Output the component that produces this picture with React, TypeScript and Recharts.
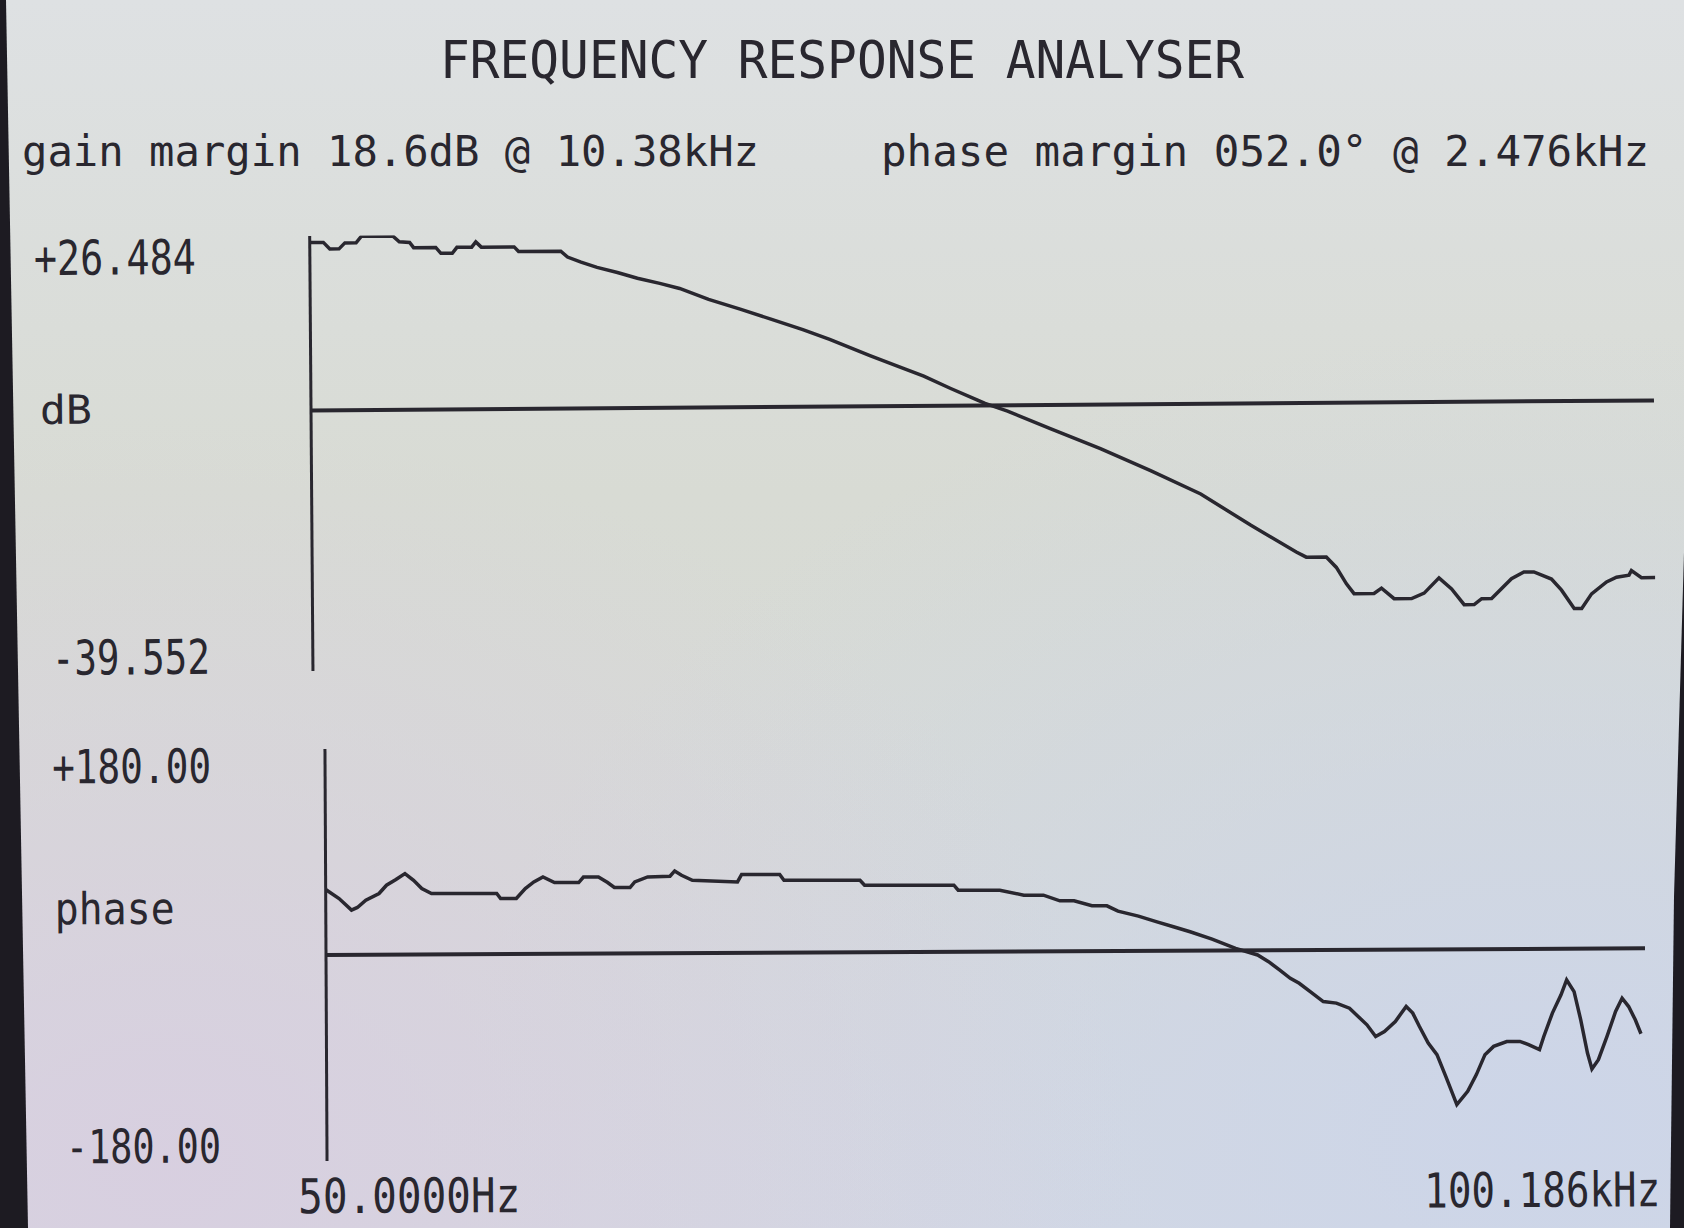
import React from 'react';
import { LineChart, Line, XAxis, YAxis, ReferenceLine } from 'recharts';

// sweep (log frequency axis)
const gainFreqHz = [
  50, 54, 56, 59, 61, 65, 67, 80, 83, 88,
  90, 102, 105, 112, 115, 125, 128, 132, 159, 163,
  207, 215, 232, 254, 285, 319, 362, 405, 477, 570,
  681, 812, 945, 1186, 1380, 1607, 1871, 2177, 2271, 2579,
  3282, 4355, 5780, 7670, 10178, 13140, 13904, 15571, 16478, 17434,
  18193, 20372, 21255, 22822, 25200, 27056, 29446, 31609, 33917, 35894,
  37456, 39634, 44380, 47633, 50402, 55660, 58898, 63222, 65964, 69802,
  76005, 80436, 86328, 87549, 92650, 100186,
];
const gainDb = [
  25.5, 25.5, 24.5, 24.5, 25.4, 25.4, 26.4, 26.4, 25.5, 25.4,
  24.6, 24.6, 23.7, 23.7, 24.6, 24.6, 25.4, 24.6, 24.6, 23.9,
  23.9, 23.0, 22.2, 21.4, 20.6, 19.7, 18.9, 18.1, 16.4, 14.9,
  13.3, 11.7, 10.2, 7.7, 6.1, 4.5, 2.6, 0.8, 0.3, -0.9,
  -3.6, -6.7, -10.1, -13.7, -18.5, -22.6, -23.4, -23.4, -25.0, -27.5,
  -29.0, -29.0, -28.2, -29.8, -29.8, -29.0, -26.7, -28.4, -30.8, -30.8,
  -29.9, -29.9, -26.9, -25.9, -25.9, -27.0, -28.7, -31.5, -31.5, -29.3,
  -27.5, -26.8, -26.5, -25.8, -26.9, -26.9,
];

const phaseFreqHz = [
  50, 54, 58, 60, 63, 68, 71, 75, 79, 83,
  87, 92, 134, 137, 150, 158, 166, 175, 187, 215,
  221, 241, 254, 264, 289, 297, 320, 364, 374, 389,
  414, 537, 550, 685, 702, 1088, 1117, 1869, 1916, 2435,
  2796, 3131, 3441, 3734, 4139, 4512, 4809, 5410, 6020, 6618,
  7284, 8265, 9464, 10740, 11440, 12180, 12960, 13640, 14530, 15660,
  16890, 18210, 19140, 20130, 21160, 22260, 23710, 25250, 26220, 27240,
  28640, 30110, 31660, 33720, 35910, 37770, 39710, 41760, 45050, 48590,
  51070, 54380, 55770, 58640, 61660, 63720, 66490, 69030, 71700, 73540,
  76350, 80280, 84410, 87680, 91030, 94550, 97650,
];
const phaseDeg = [
  57.2, 49.3, 39.1, 41.4, 47.7, 53.5, 60.7, 65.6, 70.8, 64.9,
  57.7, 53.3, 53.0, 48.6, 48.5, 57.2, 62.9, 67.2, 62.3, 62.2,
  67.0, 67.0, 62.1, 57.7, 57.6, 62.5, 66.8, 67.3, 71.9, 68.1,
  63.7, 62.0, 68.5, 68.3, 63.3, 63.0, 58.6, 58.2, 53.8, 53.6,
  49.2, 49.1, 44.1, 44.0, 39.6, 39.5, 34.8, 30.4, 25.3, 20.9,
  16.5, 10.0, 1.8, -4.1, -10.0, -17.3, -24.6, -29.0, -36.3, -45.1,
  -46.5, -51.0, -58.3, -65.6, -75.8, -71.5, -62.8, -49.8, -55.6, -67.3,
  -81.8, -92.0, -111.0, -135.7, -124.1, -109.6, -92.2, -85.0, -80.8, -80.8,
  -83.7, -88.1, -76.6, -56.2, -40.3, -27.3, -37.5, -62.2, -91.2, -105.2,
  -97.1, -76.8, -55.1, -43.5, -50.8, -62.4, -74.6,
];

const FREQ_RANGE = [50, 100186];
const GAIN_RANGE = [-39.552, 26.484];
const PHASE_RANGE = [-180, 180];

const TITLE = 'FREQUENCY RESPONSE ANALYSER';
const GAIN_MARGIN = 'gain margin 18.6dB @ 10.38kHz';
const PHASE_MARGIN = 'phase margin 052.0\u00b0 @ 2.476kHz';

const INK = '#29272f';
const FONT = '"DejaVu Sans Mono", "Liberation Mono", monospace';

const gainRows = gainFreqHz.map((f, i) => ({ f, db: gainDb[i] }));
const phaseRows = phaseFreqHz.map((f, i) => ({ f, deg: phaseDeg[i] }));

const signed = (v: number, digits: number) => (v > 0 ? '+' : '') + v.toFixed(digits);

// y labels hang from the top of the axis / sit on its bottom
const GainTick = (props: any) => {
  const { y, payload } = props;
  const top = payload.value > 0;
  return (
    <text x={top ? 35 : 50} y={top ? y + 37 : y + 2} fill={INK} fontFamily={FONT} fontSize={48}
      textLength={top ? 162 : 158} lengthAdjust="spacingAndGlyphs">
      {signed(payload.value, 3)}
    </text>
  );
};

const PhaseTick = (props: any) => {
  const { y, payload } = props;
  const top = payload.value > 0;
  return (
    <text x={top ? 53 : 65} y={top ? y + 33 : y + 1} fill={INK} fontFamily={FONT} fontSize={47}
      textLength={top ? 159 : 155} lengthAdjust="spacingAndGlyphs">
      {signed(payload.value, 2)}
    </text>
  );
};

// LCD glyphs are tall and narrow: smaller font, stretched vertically
const FreqTick = (props: any) => {
  const { x, y, payload } = props;
  const first = payload.value === FREQ_RANGE[0];
  const label = first ? '50.0000Hz' : (payload.value / 1000).toFixed(3) + 'kHz';
  const left = first ? x - 29 : x - 222;
  return (
    <text transform={`translate(${left},${y + 52}) scale(1,1.2)`} x={0} y={0} fill={INK} fontFamily={FONT}
      fontSize={40} textLength={first ? 222 : 236} lengthAdjust="spacingAndGlyphs">
      {label}
    </text>
  );
};

export default function App() {
  return (
    <div
      style={{
        position: 'absolute',
        left: 0,
        top: 0,
        width: 1684,
        height: 1228,
        overflow: 'hidden',
        background:
          'radial-gradient(ellipse at 10% 95%, rgba(216,206,224,0.9), rgba(216,206,224,0) 45%),' +
          'radial-gradient(ellipse at 92% 92%, rgba(204,213,233,0.95), rgba(204,213,233,0) 50%),' +
          'linear-gradient(180deg, #dee1e3 0%, #d8dbd4 40%, #d7dad6 70%, #d5d9e0 100%)',
      }}
    >
      {/* dark bezel edges of the photographed screen */}
      <div style={{ position: 'absolute', left: 0, top: 0, width: 34, height: 1228, background: '#1d1b22', clipPath: 'polygon(0 0, 6px 0, 28px 100%, 0 100%)' }} />
      <div style={{ position: 'absolute', left: 1666, top: 0, width: 18, height: 1228, background: '#1d1b22', clipPath: 'polygon(100% 45%, 100% 100%, 4px 100%, 8px 73%)' }} />

      <svg width={1684} height={200} style={{ position: 'absolute', left: 0, top: 0 }}>
        <text x={440} y={78} fill={INK} fontFamily={FONT} fontSize={52} textLength={804} lengthAdjust="spacingAndGlyphs">
          {TITLE}
        </text>
        <text x={22} y={166} fill={INK} fontFamily={FONT} fontSize={43} textLength={737} lengthAdjust="spacingAndGlyphs">
          {GAIN_MARGIN}
        </text>
        <text x={881} y={166} fill={INK} fontFamily={FONT} fontSize={43} textLength={768} lengthAdjust="spacingAndGlyphs">
          {PHASE_MARGIN}
        </text>
      </svg>

      {/* gain plot, photo is slightly rotated */}
      <div style={{ position: 'absolute', left: 0, top: 0, transform: 'rotate(-0.43deg)', transformOrigin: '311px 410px' }}>
        <LineChart width={1684} height={700} data={gainRows} margin={{ top: 236, right: 30, bottom: 29, left: 111 }}>
          <XAxis dataKey="f" type="number" scale="log" domain={FREQ_RANGE} allowDataOverflow hide />
          <YAxis
            type="number"
            domain={GAIN_RANGE}
            ticks={[GAIN_RANGE[1], GAIN_RANGE[0]]}
            allowDataOverflow
            width={200}
            tickSize={0}
            tickMargin={0}
            tickLine={false}
            axisLine={{ stroke: INK, strokeWidth: 3 }}
            tick={GainTick}
            label={(p: any) => (
              <text x={40} y={p.viewBox.y + 186} fill={INK} fontFamily={FONT} fontSize={40} textLength={52} lengthAdjust="spacingAndGlyphs">
                dB
              </text>
            )}
          />
          <ReferenceLine y={0} stroke={INK} strokeWidth={4} />
          <Line type="linear" dataKey="db" stroke={INK} strokeWidth={3.5} dot={false} isAnimationActive={false} />
        </LineChart>
      </div>

      {/* phase plot */}
      <div style={{ position: 'absolute', left: 0, top: 0, transform: 'rotate(-0.29deg)', transformOrigin: '326px 955px' }}>
        <LineChart width={1684} height={1228} data={phaseRows} margin={{ top: 749, right: 39, bottom: 7, left: 126 }}>
          <XAxis
            dataKey="f"
            type="number"
            scale="log"
            domain={FREQ_RANGE}
            ticks={FREQ_RANGE}
            allowDataOverflow
            height={60}
            axisLine={false}
            tickLine={false}
            tickSize={0}
            tickMargin={0}
            tick={FreqTick}
          />
          <YAxis
            type="number"
            domain={PHASE_RANGE}
            ticks={[PHASE_RANGE[1], PHASE_RANGE[0]]}
            allowDataOverflow
            width={200}
            tickSize={0}
            tickMargin={0}
            tickLine={false}
            axisLine={{ stroke: INK, strokeWidth: 3 }}
            tick={PhaseTick}
            label={(p: any) => (
              <text x={55} y={p.viewBox.y + 174} fill={INK} fontFamily={FONT} fontSize={44} textLength={120} lengthAdjust="spacingAndGlyphs">
                phase
              </text>
            )}
          />
          <ReferenceLine y={0} stroke={INK} strokeWidth={4} />
          <Line type="linear" dataKey="deg" stroke={INK} strokeWidth={3.5} dot={false} isAnimationActive={false} />
        </LineChart>
      </div>
    </div>
  );
}
